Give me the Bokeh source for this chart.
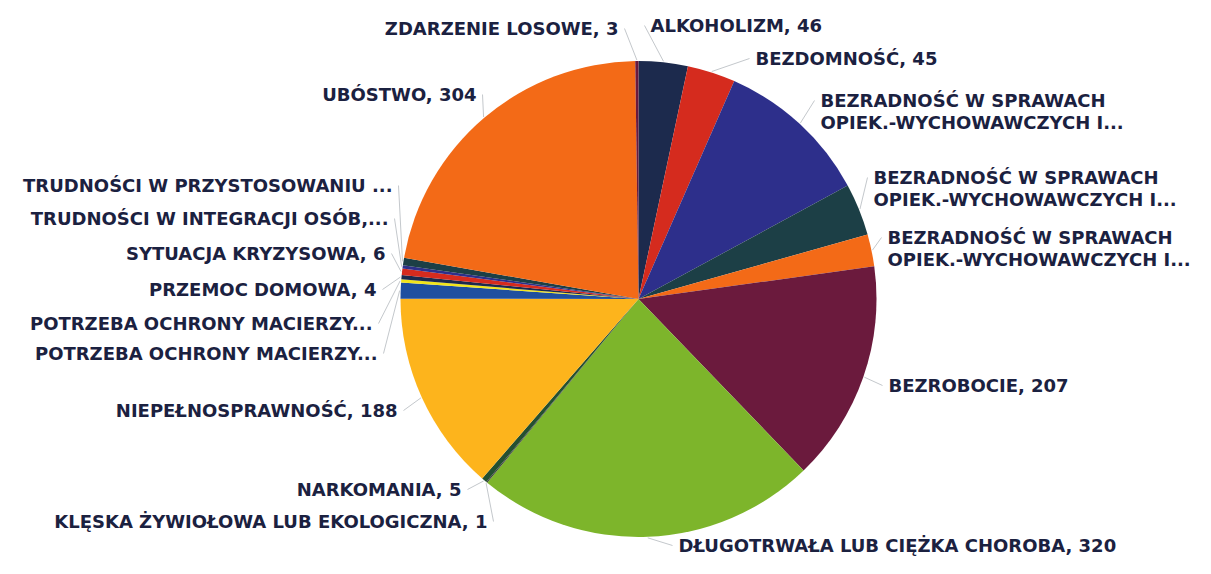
import numpy as np
from bokeh.plotting import figure
from bokeh.models import Range1d, ColumnDataSource
from bokeh.embed import file_html
from bokeh.resources import INLINE
from bokeh.core.properties import value

# ---------------- data ----------------
categories = [
    "ALKOHOLIZM",
    "BEZDOMNOŚĆ",
    "BEZRADNOŚĆ W SPRAWACH\nOPIEK.-WYCHOWAWCZYCH I...",
    "BEZRADNOŚĆ W SPRAWACH\nOPIEK.-WYCHOWAWCZYCH I...",
    "BEZRADNOŚĆ W SPRAWACH\nOPIEK.-WYCHOWAWCZYCH I...",
    "BEZROBOCIE",
    "DŁUGOTRWAŁA LUB CIĘŻKA CHOROBA",
    "KLĘSKA ŻYWIOŁOWA LUB EKOLOGICZNA",
    "NARKOMANIA",
    "NIEPEŁNOSPRAWNOŚĆ",
    "POTRZEBA OCHRONY MACIERZY...",
    "POTRZEBA OCHRONY MACIERZY...",
    "PRZEMOC DOMOWA",
    "SYTUACJA KRYZYSOWA",
    "TRUDNOŚCI W INTEGRACJI OSÓB,...",
    "TRUDNOŚCI W PRZYSTOSOWANIU ...",
    "UBÓSTWO",
    "ZDARZENIE LOSOWE",
]
values = [46, 45, 145, 49, 30, 207, 320, 1, 5, 188, 15, 3, 4, 6, 3, 7, 304, 3]

palette = ["#1c2a4d", "#d52b1e", "#2d2f8b", "#1c3f46", "#f36a17", "#6b1a3d",
           "#7db52b", "#3a3a3a", "#245030", "#fdb41c", "#1f4f9f", "#f2e51b"]

# label layout (pixel coords in the picture: x anchor, y centre, alignment)
label_layout = [
    (650, 25, "left"), (755, 58, "left"), (820, 100, "left"), (873, 177, "left"),
    (887, 237, "left"), (888, 385, "left"), (678, 545, "left"), (487, 521, "right"),
    (461, 489, "right"), (397, 410, "right"), (377, 353, "right"), (372, 323, "right"),
    (376, 289, "right"), (385, 253, "right"), (388, 218, "right"), (392, 185, "right"),
    (476, 94, "right"), (618, 28, "right"),
]

W, H = 1195, 558
CX, CY, R = 638, 298.5, 238  # picture coords


def tx(x):
    return x


def ty(y):
    return H - y


p = figure(width=W, height=H, output_backend="svg", toolbar_location=None,
           x_range=Range1d(0, W), y_range=Range1d(0, H), min_border=0)
p.axis.visible = False
p.grid.visible = False
p.outline_line_color = None
p.background_fill_color = "white"
p.border_fill_color = "white"

vals = np.array(values, dtype=float)
total = vals.sum()
cum = np.concatenate([[0], np.cumsum(vals)])
start = np.pi / 2 - cum[:-1] / total * 2 * np.pi
end = np.pi / 2 - cum[1:] / total * 2 * np.pi
colors = [palette[i % len(palette)] for i in range(len(values))]

src = ColumnDataSource(dict(start=start, end=end, color=colors))
p.wedge(x=tx(CX), y=ty(CY), radius=R, start_angle="start", end_angle="end",
        direction="clock", fill_color="color", line_color=None, source=src)

# leader lines and labels
mid = (start + end) / 2
lx0, ly0, lx1, ly1 = [], [], [], []
tx_l, ty_l, txt_l, al_l = [], [], [], []
for i, (cat, v) in enumerate(zip(categories, values)):
    ax, ay, align = label_layout[i]
    ex = tx(CX) + (R + 1) * np.cos(mid[i])
    ey = ty(CY) + (R + 1) * np.sin(mid[i])
    gx = tx(ax) + (-6 if align == "left" else 6)
    lx0.append(ex); ly0.append(ey); lx1.append(gx); ly1.append(ty(ay))
    text = cat if cat.endswith("...") else f"{cat}, {v}"
    for j, line in enumerate(text.split("\n")):
        tx_l.append(tx(ax)); ty_l.append(ty(ay + 22 * j))
        txt_l.append(line); al_l.append(align)

p.segment(x0=lx0, y0=ly0, x1=lx1, y1=ly1, line_color="#c4c8cc", line_width=1)

tsrc = ColumnDataSource(dict(x=tx_l, y=ty_l, text=txt_l, align=al_l))
p.text(x="x", y="y", text="text", source=tsrc, text_align="align",
       text_baseline="middle", text_font=value("DejaVu Sans"),
       text_font_style="bold", text_font_size="18px", text_color="#1b2140")

open("out.html", "w").write(file_html(p, INLINE))
